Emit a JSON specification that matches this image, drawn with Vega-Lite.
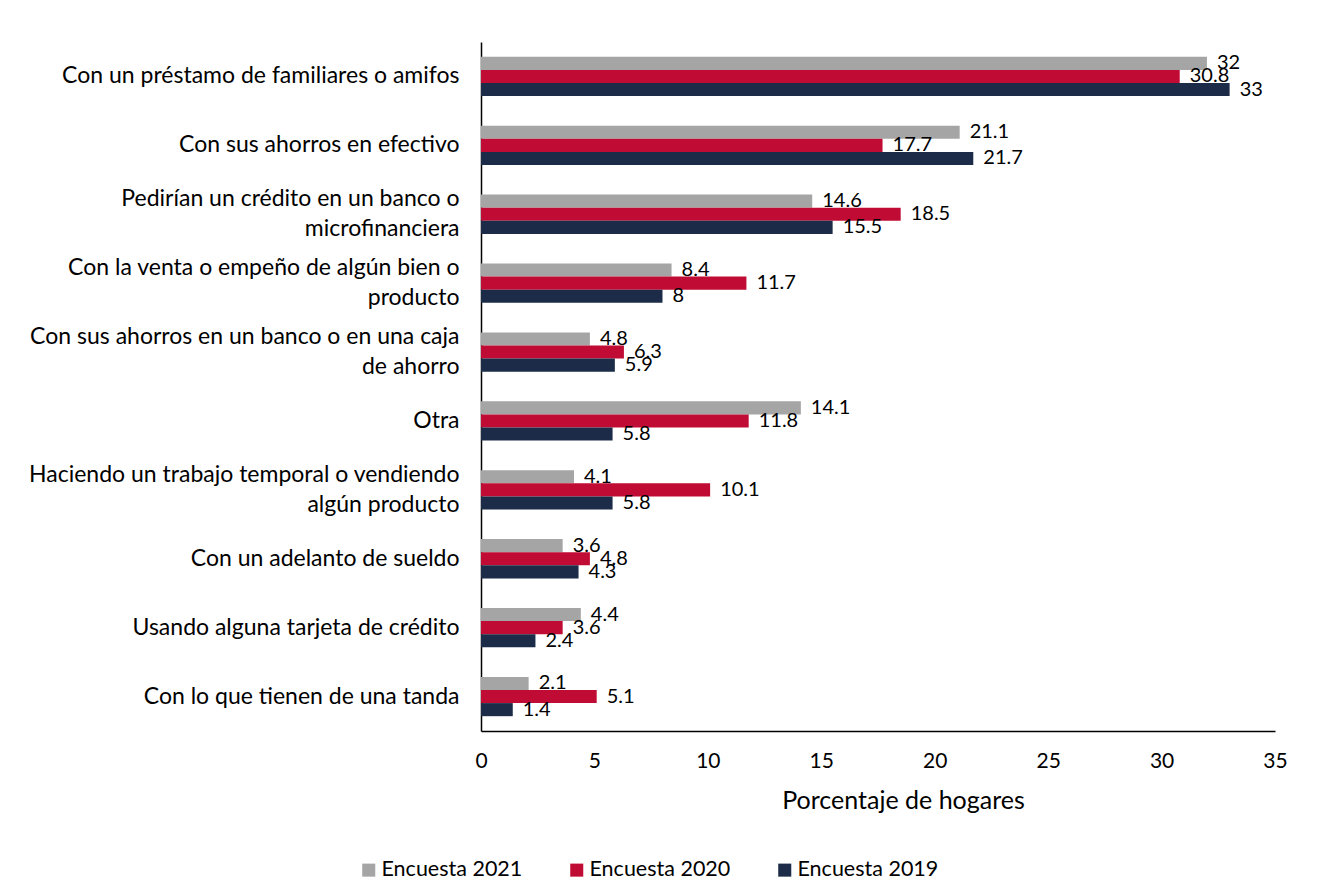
{
  "$schema": "https://vega.github.io/schema/vega-lite/v6.json",
  "width": 794,
  "height": 689,
  "autosize": {"type": "none"},
  "padding": {"left": 481, "top": 42, "right": 44, "bottom": 163},
  "background": "white",
  "config": {
    "font": "Lato",
    "view": {"stroke": null}
  },
  "data": {
    "values": [
      {"cat": "Con un préstamo de familiares o amifos", "serie": "Encuesta 2021", "v": 32},
      {"cat": "Con un préstamo de familiares o amifos", "serie": "Encuesta 2020", "v": 30.8},
      {"cat": "Con un préstamo de familiares o amifos", "serie": "Encuesta 2019", "v": 33},
      {"cat": "Con sus ahorros en efectivo", "serie": "Encuesta 2021", "v": 21.1},
      {"cat": "Con sus ahorros en efectivo", "serie": "Encuesta 2020", "v": 17.7},
      {"cat": "Con sus ahorros en efectivo", "serie": "Encuesta 2019", "v": 21.7},
      {"cat": "Pedirían un crédito en un banco o|microfinanciera", "serie": "Encuesta 2021", "v": 14.6},
      {"cat": "Pedirían un crédito en un banco o|microfinanciera", "serie": "Encuesta 2020", "v": 18.5},
      {"cat": "Pedirían un crédito en un banco o|microfinanciera", "serie": "Encuesta 2019", "v": 15.5},
      {"cat": "Con la venta o empeño de algún bien o|producto", "serie": "Encuesta 2021", "v": 8.4},
      {"cat": "Con la venta o empeño de algún bien o|producto", "serie": "Encuesta 2020", "v": 11.7},
      {"cat": "Con la venta o empeño de algún bien o|producto", "serie": "Encuesta 2019", "v": 8},
      {"cat": "Con sus ahorros en un banco o en una caja|de ahorro", "serie": "Encuesta 2021", "v": 4.8},
      {"cat": "Con sus ahorros en un banco o en una caja|de ahorro", "serie": "Encuesta 2020", "v": 6.3},
      {"cat": "Con sus ahorros en un banco o en una caja|de ahorro", "serie": "Encuesta 2019", "v": 5.9},
      {"cat": "Otra", "serie": "Encuesta 2021", "v": 14.1},
      {"cat": "Otra", "serie": "Encuesta 2020", "v": 11.8},
      {"cat": "Otra", "serie": "Encuesta 2019", "v": 5.8},
      {"cat": "Haciendo un trabajo temporal o vendiendo|algún producto", "serie": "Encuesta 2021", "v": 4.1},
      {"cat": "Haciendo un trabajo temporal o vendiendo|algún producto", "serie": "Encuesta 2020", "v": 10.1},
      {"cat": "Haciendo un trabajo temporal o vendiendo|algún producto", "serie": "Encuesta 2019", "v": 5.8},
      {"cat": "Con un adelanto de sueldo", "serie": "Encuesta 2021", "v": 3.6},
      {"cat": "Con un adelanto de sueldo", "serie": "Encuesta 2020", "v": 4.8},
      {"cat": "Con un adelanto de sueldo", "serie": "Encuesta 2019", "v": 4.3},
      {"cat": "Usando alguna tarjeta de crédito", "serie": "Encuesta 2021", "v": 4.4},
      {"cat": "Usando alguna tarjeta de crédito", "serie": "Encuesta 2020", "v": 3.6},
      {"cat": "Usando alguna tarjeta de crédito", "serie": "Encuesta 2019", "v": 2.4},
      {"cat": "Con lo que tienen de una tanda", "serie": "Encuesta 2021", "v": 2.1},
      {"cat": "Con lo que tienen de una tanda", "serie": "Encuesta 2020", "v": 5.1},
      {"cat": "Con lo que tienen de una tanda", "serie": "Encuesta 2019", "v": 1.4}
    ]
  },
  "encoding": {
    "y": {
      "field": "cat",
      "type": "nominal",
      "sort": null,
      "scale": {"paddingInner": 0.43, "paddingOuter": 0.215},
      "axis": {
        "title": null,
        "ticks": false,
        "domainColor": "black",
        "domainWidth": 1.5,
        "labelExpr": "split(datum.value, '|')",
        "labelFontSize": 23,
        "labelColor": "black",
        "labelPadding": 22,
        "labelLimit": 470,
        "labelLineHeight": 30,
        "labelOffset": {"condition": {"test": "indexof(datum.value, '|') >= 0", "value": -15}, "value": 0}
      }
    },
    "yOffset": {"field": "serie", "type": "nominal", "sort": ["Encuesta 2021", "Encuesta 2020", "Encuesta 2019"]},
    "x": {
      "field": "v",
      "type": "quantitative",
      "scale": {"domain": [0, 35]},
      "axis": {
        "title": "Porcentaje de hogares",
        "values": [0, 5, 10, 15, 20, 25, 30, 35],
        "grid": false,
        "ticks": false,
        "domainColor": "black",
        "domainWidth": 1.5,
        "labelFontSize": 21,
        "labelColor": "black",
        "labelPadding": 19,
        "labelFlush": false,
        "titleFontSize": 25,
        "titleFontWeight": "normal",
        "titleColor": "black",
        "titlePadding": 17,
        "titleX": 422,
        "titleAlign": "center"
      }
    }
  },
  "layer": [
    {
      "mark": {"type": "bar"},
      "encoding": {
        "color": {
          "field": "serie",
          "type": "nominal",
          "scale": {
            "domain": ["Encuesta 2021", "Encuesta 2020", "Encuesta 2019"],
            "range": ["#A5A5A5", "#C00C34", "#1B2B48"]
          },
          "legend": {
            "title": null,
            "orient": "none",
            "direction": "horizontal",
            "legendX": -123,
            "legendY": 817,
            "symbolType": "square",
            "symbolSize": 170,
            "symbolStrokeWidth": 0,
            "labelFontSize": 21.5,
            "labelColor": "black",
            "columnPadding": 43,
            "labelOffset": 2,
            "labelLimit": 300
          }
        }
      }
    },
    {
      "mark": {"type": "text", "align": "left", "baseline": "middle", "dx": 10, "fontSize": 20, "color": "black"},
      "encoding": {"text": {"field": "v", "type": "quantitative"}}
    }
  ]
}
